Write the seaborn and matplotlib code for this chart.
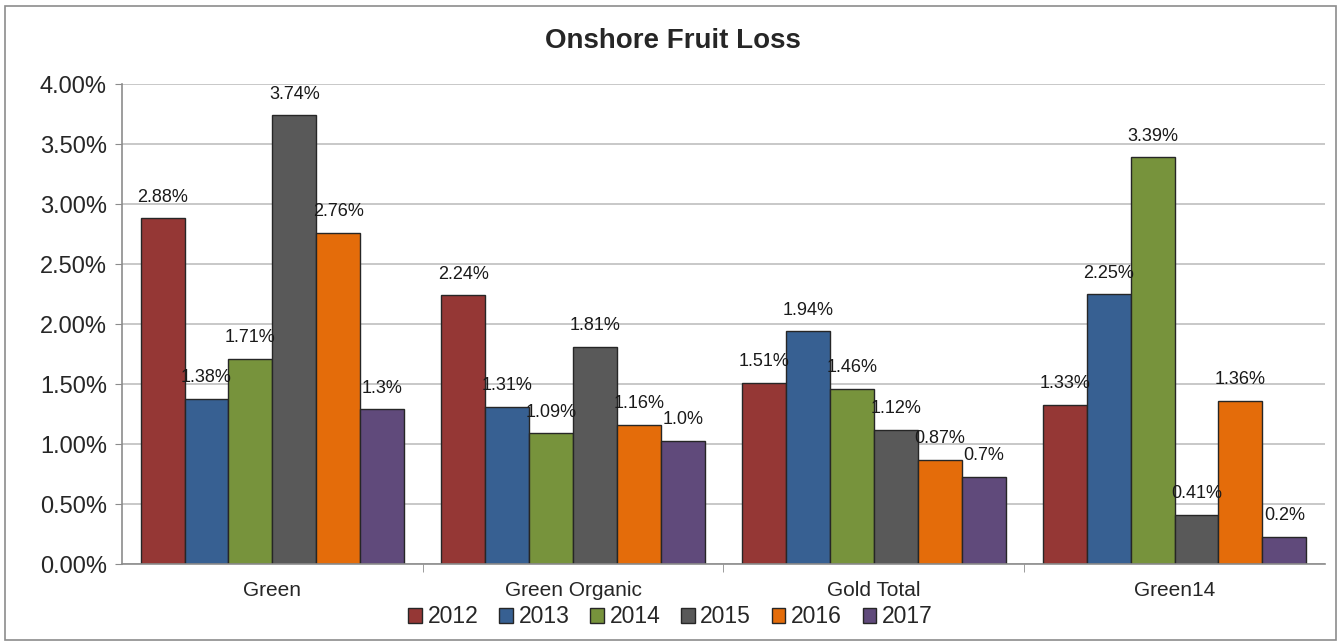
import numpy as np
import pandas as pd
import matplotlib
matplotlib.use("Agg")
import matplotlib.pyplot as plt
import matplotlib.ticker as mticker
from matplotlib.patches import Rectangle
import seaborn as sns

# Chart data (values in percent)
categories = ["Green", "Green Organic", "Gold Total", "Green14"]
years = ["2012", "2013", "2014", "2015", "2016", "2017"]
loss_2012 = [2.88, 2.24, 1.51, 1.33]
loss_2013 = [1.38, 1.31, 1.94, 2.25]
loss_2014 = [1.71, 1.09, 1.46, 3.39]
loss_2015 = [3.74, 1.81, 1.12, 0.41]
loss_2016 = [2.76, 1.16, 0.87, 1.36]
loss_2017 = [1.29, 1.03, 0.73, 0.23]
# the 2017 labels are shown with one decimal in the original
labels_2017 = ["1.3%", "1.0%", "0.7%", "0.2%"]
y_ticks = [0, 0.5, 1.0, 1.5, 2.0, 2.5, 3.0, 3.5, 4.0]

colors = ["#953735", "#376092", "#77933C", "#595959", "#E46C0A", "#604A7B"]

series = [loss_2012, loss_2013, loss_2014, loss_2015, loss_2016, loss_2017]
rows = []
for year, vals in zip(years, series):
    for cat, v in zip(categories, vals):
        rows.append({"category": cat, "year": year, "loss": v})
df = pd.DataFrame(rows)

sns.set_style("white")
plt.rcParams["font.family"] = ["Liberation Sans", "DejaVu Sans"]

fig = plt.figure(figsize=(13.41, 6.44), dpi=100)
ax = fig.add_axes([0.091, 0.124, 0.897, 0.7455])

sns.barplot(data=df, x="category", y="loss", hue="year", order=categories,
            hue_order=years, palette=colors, width=0.876, saturation=1,
            edgecolor="#262626", linewidth=1.0, ax=ax, legend=True)

# data labels
for i, (year, container) in enumerate(zip(years, ax.containers)):
    if year == "2017":
        texts = labels_2017
    else:
        texts = [f"{v:.2f}%" for v in series[i]]
    ax.bar_label(container, labels=texts, padding=9, fontsize=13, color="#1a1a1a")

ax.set_ylim(0, 4.0)
ax.set_xlim(-0.5, 3.5)
ax.set_yticks(y_ticks)
ax.yaxis.set_major_formatter(mticker.FuncFormatter(lambda x, p: f"{x:.2f}%"))
ax.yaxis.grid(True, color="#BFBFBF", linewidth=1.2)
ax.set_axisbelow(True)
ax.set_xlabel("")
ax.set_ylabel("")

ax.tick_params(axis="y", labelsize=17, length=5, color="#8c8c8c", left=True, pad=6)
ax.tick_params(axis="x", which="major", labelsize=15, length=0, pad=12)
ax.set_xticks([0.5, 1.5, 2.5], minor=True)
ax.tick_params(axis="x", which="minor", length=6, color="#8c8c8c", bottom=True)

for s in ["top", "right"]:
    ax.spines[s].set_visible(False)
for s in ["left", "bottom"]:
    ax.spines[s].set_color("#8c8c8c")
    ax.spines[s].set_linewidth(1.2)

fig.text(0.502, 0.937, "Onshore Fruit Loss", ha="center", va="center",
         fontsize=20, fontweight="bold")

handles, lbls = ax.get_legend_handles_labels()
ax.legend_.remove()
fig.legend(handles, lbls, loc="center", bbox_to_anchor=(0.5, 0.042), ncol=6,
           frameon=False, fontsize=16.5, handlelength=0.6, handleheight=0.6,
           handletextpad=0.25, columnspacing=0.9, borderaxespad=0)

fig.patches.append(Rectangle((0.004, 0.006), 0.992, 0.984, transform=fig.transFigure,
                             fill=False, edgecolor="#8c8c8c", linewidth=1.2))

fig.savefig("out.png", dpi=100)
